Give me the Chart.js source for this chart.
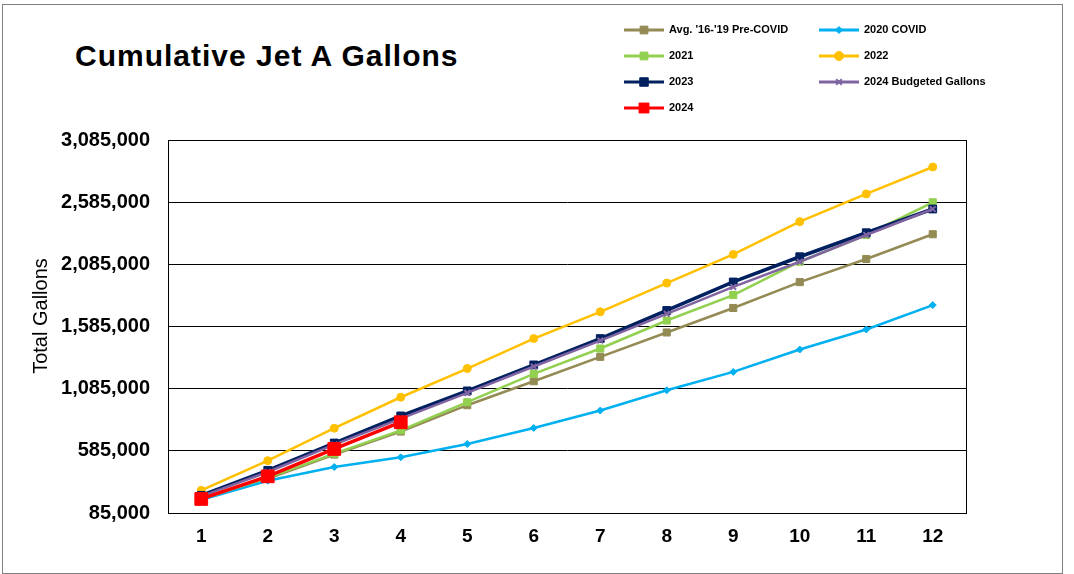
<!DOCTYPE html>
<html>
<head>
<meta charset="utf-8">
<title>Cumulative Jet A Gallons</title>
<script src="https://cdn.jsdelivr.net/npm/chart.js@4.4.1/dist/chart.umd.min.js"></script>
<style>
  body { margin: 0; background: #fff; }
  #wrap { position: relative; width: 1074px; height: 574px; font-family: "Liberation Sans", Arial, sans-serif; }
  #frame { position: absolute; left: 2px; top: 4px; width: 1061px; height: 570px; border: 1px solid #7f7f7f; box-sizing: border-box; }
  #title { position: absolute; left: 75px; top: 41px; line-height: 30px; font-size: 30px; letter-spacing: 1px; font-weight: bold; color: #000; }
  canvas { position: absolute; left: 0; top: 0; }
</style>
</head>
<body>
<div id="wrap">
  <div id="frame"></div>
  <div id="title">Cumulative Jet A Gallons</div>
  <canvas id="jetChart" width="1074" height="574"></canvas>
</div>
<script>
// ==========================================
// DATA
// ==========================================
const months = ['1', '2', '3', '4', '5', '6', '7', '8', '9', '10', '11', '12'];
const yTicks = [85000, 585000, 1085000, 1585000, 2085000, 2585000, 3085000];
const yTitle = 'Total Gallons';

const avgPreCovid = [192000, 359000, 555000, 740000, 952000, 1145000, 1341000, 1537000, 1734000, 1942000, 2128000, 2327000];
const covid2020   = [192000, 345000, 455000, 533000, 640000, 769000, 909000, 1072000, 1220000, 1400000, 1561000, 1757000];
const gal2021     = [198000, 367000, 563000, 750000, 976000, 1204000, 1408000, 1633000, 1838000, 2106000, 2321000, 2584000];
const gal2022     = [267000, 506000, 767000, 1016000, 1247000, 1488000, 1703000, 1934000, 2165000, 2428000, 2651000, 2868000];
const gal2023     = [227000, 428000, 648000, 866000, 1067000, 1276000, 1488000, 1714000, 1943000, 2146000, 2339000, 2530000];
const budget2024  = [219000, 415000, 635000, 844000, 1051000, 1263000, 1472000, 1687000, 1903000, 2106000, 2321000, 2530000];
const gal2024     = [198000, 380000, 600000, 815000];

const FONT = '"Liberation Sans", Arial, sans-serif';

function series(label, data, color, style, radius, width, legendRadius) {
    return {
        label: label,
        data: data,
        borderColor: color,
        backgroundColor: color,
        pointBackgroundColor: color,
        pointBorderColor: color,
        pointStyle: style,
        pointRadius: radius,
        pointHoverRadius: radius,
        pointBorderWidth: style === 'crossRot' ? 2 : 1,
        borderWidth: width,
        legendRadius: legendRadius,
        tension: 0
    };
}

const datasets = [
    series("Avg. '16-'19 Pre-COVID", avgPreCovid, '#948A54', 'rect', 5, 2.5, 5.5),
    series('2020 COVID', covid2020, '#00B0F0', 'rectRot', 3.5, 2.5, 3.5),
    series('2021', gal2021, '#92D050', 'rect', 5, 2.5, 5.5),
    series('2022', gal2022, '#FFC000', 'circle', 4, 2.5, 4.5),
    series('2023', gal2023, '#002060', 'rect', 5.5, 3.5, 6),
    series('2024 Budgeted Gallons', budget2024, '#8064A2', 'crossRot', 4, 2.5, 4),
    series('2024', gal2024, '#FF0000', 'rect', 9, 3.5, 7)
];
// later series drawn on top, like the spreadsheet
datasets.forEach((ds, i) => { ds.order = datasets.length - i; });

// ==========================================
// PLUGINS: plot frame, axis title, two-column legend
// ==========================================
const plotFrame = {
    id: 'plotFrame',
    beforeDatasetsDraw(chart) {
        const a = chart.chartArea;
        const ctx = chart.ctx;
        ctx.save();
        ctx.strokeStyle = '#000';
        ctx.lineWidth = 1;
        ctx.strokeRect(Math.round(a.left) + 0.5, Math.round(a.top) + 0.5,
                       Math.round(a.right - a.left), Math.round(a.bottom - a.top));

        // y axis title, sits a bit above the plot middle in the original
        ctx.translate(41, 316);
        ctx.rotate(-Math.PI / 2);
        ctx.fillStyle = '#000';
        ctx.font = '20px ' + FONT;
        ctx.textAlign = 'center';
        ctx.textBaseline = 'middle';
        ctx.fillText(yTitle, 0, 0);
        ctx.restore();
    }
};

const sideLegend = {
    id: 'sideLegend',
    afterDraw(chart) {
        const ctx = chart.ctx;
        ctx.save();
        chart.data.datasets.forEach((ds, i) => {
            const x = 624 + (i % 2) * 195;
            const y = 30 + Math.floor(i / 2) * 26;
            ctx.strokeStyle = ds.borderColor;
            ctx.lineWidth = 3;
            ctx.beginPath();
            ctx.moveTo(x, y);
            ctx.lineTo(x + 40, y);
            ctx.stroke();

            ctx.fillStyle = ds.pointBackgroundColor;
            ctx.strokeStyle = ds.pointBorderColor;
            ctx.lineWidth = ds.pointBorderWidth;
            Chart.helpers.drawPoint(ctx, {
                pointStyle: ds.pointStyle,
                radius: ds.legendRadius,
                rotation: 0,
                borderWidth: ds.pointBorderWidth
            }, x + 20, y);

            ctx.fillStyle = '#000';
            ctx.font = 'bold 11px ' + FONT;
            ctx.textBaseline = 'middle';
            ctx.textAlign = 'left';
            ctx.fillText(ds.label, x + 45, y);
        });
        ctx.restore();
    }
};

// ==========================================
// CHART
// ==========================================
const ctx = document.getElementById('jetChart').getContext('2d');
window.jetChart = new Chart(ctx, {
    type: 'line',
    data: { labels: months, datasets: datasets },
    options: {
        responsive: false,
        animation: false,
        events: [],
        layout: { padding: { left: 20, top: 140, right: 108, bottom: 27 } },
        scales: {
            x: {
                offset: true,
                grid: { display: false, drawTicks: false },
                border: { display: true, color: '#000', width: 1 },
                ticks: { color: '#000', padding: 12, font: { family: FONT, size: 19, weight: 'bold' } },
                afterFit: s => { s.height = 34; }
            },
            y: {
                min: yTicks[0],
                max: yTicks[yTicks.length - 1],
                afterBuildTicks: s => { s.ticks = yTicks.map(v => ({ value: v })); },
                afterFit: s => { s.width = 148; },
                grid: { color: '#000', lineWidth: 1, drawTicks: false },
                border: { display: true, color: '#000', width: 1 },
                ticks: {
                    color: '#000',
                    padding: 18,
                    font: { family: FONT, size: 20, weight: 'bold' },
                    callback: v => Number(v).toLocaleString('en-US')
                }
            }
        },
        plugins: {
            legend: { display: false },
            tooltip: { enabled: false }
        }
    },
    plugins: [plotFrame, sideLegend]
});
</script>
</body>
</html>
